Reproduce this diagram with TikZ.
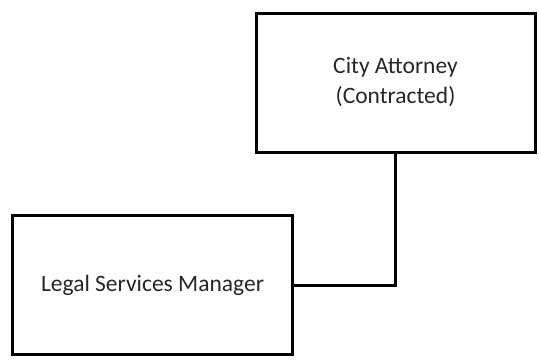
\documentclass[tikz,border=0pt]{standalone}
\usepackage{fontspec}
\setmainfont{Carlito}
\begin{document}
\begin{tikzpicture}[x=1bp,y=-1bp,
  box/.style={draw=black,line width=3bp,minimum width=279bp,minimum height=139bp,inner sep=0pt,align=center,font=\fontsize{23.5bp}{30bp}\selectfont,text=black!85},
  conn/.style={draw=black,line width=3bp}]
\useasboundingbox (0,0) rectangle (539,360);
\node[box] (ca) at (395.5,82.5) {City Attorney\\(Contracted)};
\node[box] (lsm) at (152.5,285) {Legal Services Manager};
\draw[conn] (ca.south -| 395,0) |- (lsm.east);
\end{tikzpicture}
\end{document}
